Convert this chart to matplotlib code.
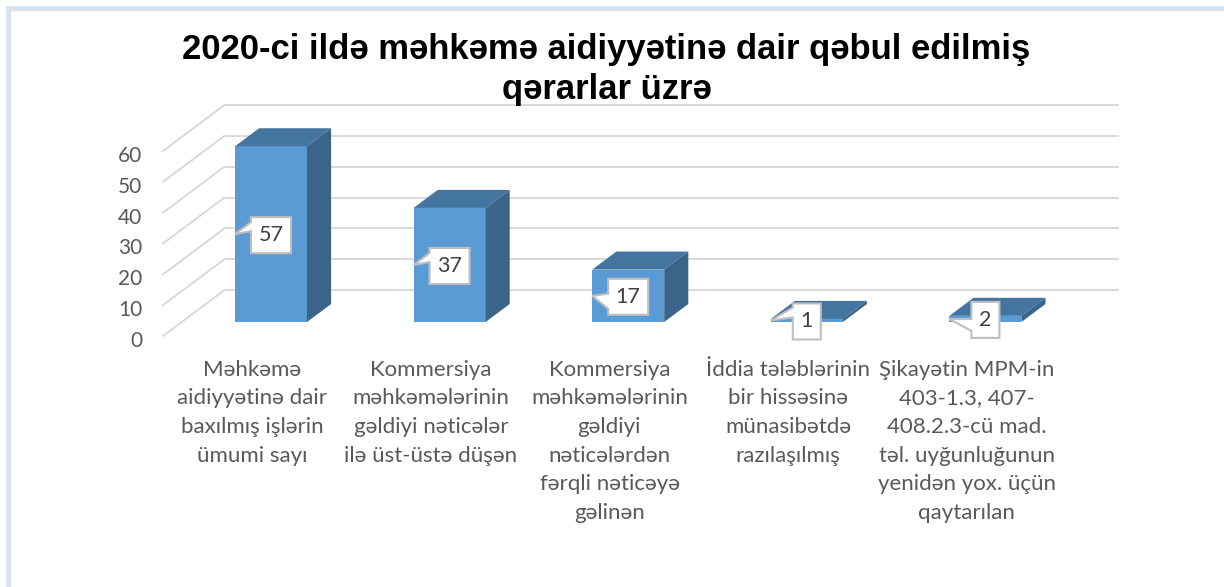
import matplotlib
matplotlib.use("Agg")
import matplotlib.pyplot as plt
from matplotlib.lines import Line2D
from matplotlib.patches import Polygon
from matplotlib.transforms import ScaledTranslation

title = "2020-ci ildə məhkəmə aidiyyətinə dair qəbul edilmiş\nqərarlar üzrə"
categories = [
    "Məhkəmə\naidiyyətinə dair\nbaxılmış işlərin\nümumi sayı",
    "Kommersiya\nməhkəmələrinin\ngəldiyi nəticələr\nilə üst-üstə düşən",
    "Kommersiya\nməhkəmələrinin\ngəldiyi\nnəticələrdən\nfərqli nəticəyə\ngəlinən",
    "İddia tələblərinin\nbir hissəsinə\nmünasibətdə\nrazılaşılmış",
    "Şikayətin MPM-in\n403-1.3, 407-\n408.2.3-cü mad.\ntəl. uyğunluğunun\nyenidən yox. üçün\nqaytarılan",
]
values = [57, 37, 17, 1, 2]
yticks = [0, 10, 20, 30, 40, 50, 60]

W, H = 1224, 587
# front plane of the fake 3d box, in pixels
left, right, y0, y60 = 163, 1056, 336, 151
fig = plt.figure(figsize=(W / 100, H / 100), dpi=100)
ax = fig.add_axes([left / W, 1 - y0 / H, (right - left) / W, (y0 - y60) / H])
ax.set_xlim(-0.5, 4.5)
ax.set_ylim(0, 60)
for s in ax.spines.values():
    s.set_visible(False)

px = 5.0 / (right - left)
py = 60.0 / (y0 - y60)
depth_x = 61.5 * px
depth_y = 46 * py
near, far = 0.304, 0.696
bar_w = 72 * px


def shift(frac):
    return depth_x * frac, depth_y * frac


# walls
grid = "#d9d9d9"
for t in yticks:
    ax.plot([-0.5, -0.5 + depth_x], [t, t + depth_y], color=grid, lw=1.4, clip_on=False, zorder=1)
    ax.plot([-0.5 + depth_x, 4.5 + depth_x], [t + depth_y, t + depth_y], color=grid, lw=1.4, clip_on=False, zorder=1)

# bars
nx, ny = shift(near)
dx, dy = shift(far - near)
xs = [i + nx for i in range(len(values))]
ax.bar(xs, values, width=bar_w, bottom=ny, color="#5b9bd5", clip_on=False, zorder=3)
for x, v in zip(xs, values):
    l, r = x - bar_w / 2, x + bar_w / 2
    b, t = ny, ny + v
    ax.fill([l, r, r + dx, l + dx], [t, t, t + dy, t + dy], color="#4475a1", lw=0, clip_on=False, zorder=3)
    ax.fill([r, r + dx, r + dx, r], [b, b + dy, t + dy, t], color="#3b6489", lw=0, clip_on=False, zorder=3)

# callouts, tail joins the left side of the box (px above/below its centre)
tails = [(-12, -3), (-12, -3), (-2, 13), (-13, -3), (0, 12)]
for x, v, tail in zip(xs, values, tails):
    cy = ny + v / 2
    box_y = cy - 1 * py
    hw = (20 if v >= 10 else 14) * px
    hh = 18 * py
    tip = x - bar_w / 2
    pts = [(x - hw, box_y + hh), (x + hw, box_y + hh), (x + hw, box_y - hh), (x - hw, box_y - hh),
           (x - hw, cy - tail[1] * py), (tip, cy), (x - hw, cy - tail[0] * py)]
    ax.add_patch(Polygon(pts, closed=True, fc="white", ec="#bfbfbf", lw=1.5, clip_on=False, zorder=4))
    ax.text(x, box_y, str(v), ha="center", va="center", family="Lato", fontsize=15.5, color="#404040", zorder=5)

ax.set_yticks(yticks)
ax.set_xticks(range(len(categories)))
ax.set_xticklabels(categories, family="Lato", fontsize=16, color="#595959", linespacing=1.54)
ax.set_yticklabels([str(t) for t in yticks], family="Lato", fontsize=15, color="#595959")
ax.tick_params(axis="x", length=0, pad=17)
ax.tick_params(axis="y", length=0, pad=15)
for lab in ax.get_yticklabels():
    lab.set_transform(lab.get_transform() + ScaledTranslation(0, -3 / 100, fig.dpi_scale_trans))

fig.text(606.5 / W, 1 - 69.5 / H, title, ha="center", va="center", family="Liberation Sans",
         fontweight="bold", fontsize=24.9, color="black", linespacing=1.26)

# chart frame
for pos, col, lw in [(8, "#d3e2ef", 2.6), (10, "#dedede", 0.9)]:
    fig.add_artist(Line2D([pos / W, pos / W], [0, 1 - pos / H], color=col, lw=lw))
    fig.add_artist(Line2D([pos / W, 1], [1 - pos / H, 1 - pos / H], color=col, lw=lw))

fig.savefig("out.png", dpi=100)
